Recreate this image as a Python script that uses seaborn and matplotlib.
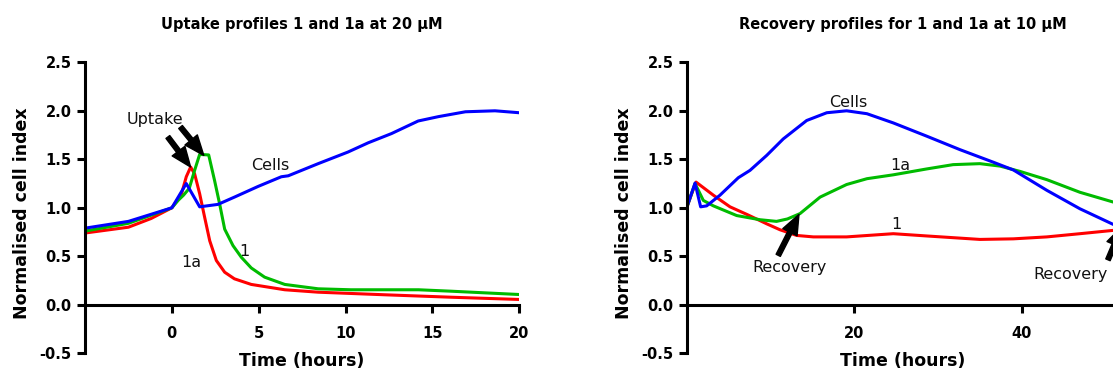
import matplotlib
matplotlib.use("Agg")
import matplotlib.pyplot as plt
import seaborn as sns
import pandas as pd

# ---------------- data ----------------
# Left panel: uptake profiles at 20 uM
up_t_cells = [-5, -2.5, 0, 0.83, 1.6, 2.65, 3.6, 4.96, 6.3, 6.7, 8.42, 10.14, 11.3, 12.64, 14.18, 15.35, 16.9, 18.6, 20]
up_cells   = [0.79, 0.86, 1.0, 1.25, 1.01, 1.035, 1.11, 1.22, 1.32, 1.33, 1.455, 1.575, 1.67, 1.765, 1.895, 1.94, 1.99, 2.0, 1.98]

up_t_1 = [-5, -2.5, 0, 0.38, 0.67, 1.0, 1.31, 1.6, 2.12, 2.46, 2.75, 3.04, 3.52, 4.0, 4.57, 5.34, 6.5, 8.42, 10.3, 14.2, 16.1, 20]
up_1   = [0.76, 0.84, 1.0, 1.08, 1.13, 1.2, 1.386, 1.55, 1.545, 1.28, 1.04, 0.78, 0.61, 0.49, 0.38, 0.285, 0.21, 0.165, 0.155, 0.155, 0.14, 0.106]

up_t_1a = [-5, -2.5, -1.19, 0, 0.55, 0.83, 1.08, 1.31, 1.6, 1.89, 2.18, 2.56, 3.04, 3.6, 4.57, 6.5, 8.42, 12.3, 16.1, 20]
up_1a   = [0.74, 0.80, 0.89, 1.0, 1.14, 1.32, 1.42, 1.35, 1.145, 0.90, 0.66, 0.457, 0.336, 0.268, 0.21, 0.155, 0.13, 0.103, 0.078, 0.055]

# Right panel: recovery profiles at 10 uM
rc_t_cells = [0, 0.96, 1.63, 2.35, 3.94, 6.13, 7.53, 9.52, 11.5, 14.3, 16.7, 19.07, 21.5, 24.65, 28.6, 32.6, 36.6, 39.0, 43.0, 46.95, 50.9, 52]
rc_cells   = [1.01, 1.255, 1.01, 1.02, 1.13, 1.31, 1.386, 1.54, 1.71, 1.90, 1.98, 2.0, 1.97, 1.875, 1.74, 1.60, 1.47, 1.39, 1.18, 0.99, 0.83, 0.79]

rc_t_1a = [0, 0.96, 1.95, 3.15, 5.94, 8.72, 10.7, 12.0, 13.5, 15.9, 19.07, 21.5, 24.65, 28.6, 31.8, 35.0, 37.4, 39.8, 43.0, 46.95, 50.9, 52]
rc_1a   = [1.01, 1.25, 1.076, 1.02, 0.92, 0.877, 0.86, 0.885, 0.94, 1.11, 1.24, 1.30, 1.34, 1.40, 1.445, 1.455, 1.43, 1.375, 1.29, 1.16, 1.06, 1.04]

rc_t_1 = [0, 0.56, 1.08, 3.15, 5.14, 7.2, 9.52, 11.1, 13.1, 15.1, 19.07, 24.65, 28.6, 35.0, 39.0, 43.0, 46.95, 50.9, 52]
rc_1   = [1.01, 1.145, 1.265, 1.13, 1.01, 0.93, 0.835, 0.774, 0.715, 0.70, 0.70, 0.733, 0.71, 0.674, 0.68, 0.70, 0.733, 0.767, 0.775]

y_ticks = [-0.5, 0.0, 0.5, 1.0, 1.5, 2.0, 2.5]
y_tick_labels = ["-0.5", "0.0", "0.5", "1.0", "1.5", "2.0", "2.5"]
up_x_ticks = [0, 5, 10, 15, 20]
rc_x_ticks = [20, 40]

titles = ["Uptake profiles 1 and 1a at 20 \u00b5M", "Recovery profiles for 1 and 1a at 10 \u00b5M"]
x_label = "Time (hours)"
y_label = "Normalised cell index"

BLUE = "#0000FF"
GREEN = "#00BB00"
RED = "#FF0000"

# ---------------- style ----------------
sns.set_style("ticks")
plt.rcParams["font.family"] = ["DejaVu Sans"]
plt.rcParams["axes.unicode_minus"] = False
plt.rcParams["text.color"] = "black"
plt.rcParams["axes.labelcolor"] = "black"

W, H = 1113, 372
fig = plt.figure(figsize=(W / 100, H / 100), dpi=100)
bottom = 1 - 353.3 / H
height = (353.3 - 62.3) / H
ax1 = fig.add_axes([85 / W, bottom, (519.3 - 85) / W, height])
ax2 = fig.add_axes([687 / W, bottom, (1118 - 687) / W, height])

LW = 2.2

def draw(ax, series):
    for t, v, c in series:
        df = pd.DataFrame({"t": t, "v": v})
        sns.lineplot(data=df, x="t", y="v", ax=ax, color=c, lw=LW,
                     estimator=None, sort=True, legend=False)

draw(ax1, [(up_t_1a, up_1a, RED), (up_t_1, up_1, GREEN), (up_t_cells, up_cells, BLUE)])
draw(ax2, [(rc_t_1, rc_1, RED), (rc_t_1a, rc_1a, GREEN), (rc_t_cells, rc_cells, BLUE)])

def style(ax, xlim, xticks, title):
    ax.set_xlim(*xlim)
    ax.set_ylim(-0.5, 2.5)
    ax.spines["top"].set_visible(False)
    ax.spines["right"].set_visible(False)
    ax.spines["bottom"].set_position(("data", 0))
    for s in ("left", "bottom"):
        ax.spines[s].set_linewidth(2.2)
        ax.spines[s].set_color("black")
    ax.set_xticks(xticks)
    ax.set_xticklabels([str(x) for x in xticks])
    ax.set_yticks(y_ticks)
    ax.set_yticklabels(y_tick_labels)
    ax.tick_params(axis="both", direction="out", length=5.8, width=2.2, color="black",
                   labelsize=10.5, labelcolor="black")
    ax.tick_params(axis="x", pad=9.5)
    ax.tick_params(axis="y", pad=4)
    for lab in ax.get_xticklabels() + ax.get_yticklabels():
        lab.set_fontweight("bold")
    ax.set_xlabel(x_label, fontsize=12.5, fontweight="bold", color="black")
    ax.set_ylabel(y_label, fontsize=12.5, fontweight="bold", color="black")
    ax.xaxis.label.set_va("center")
    ax.yaxis.label.set_va("center")
    ax.xaxis.set_label_coords(0.5, -0.027)
    ax.yaxis.set_label_coords(-63.3 / (ax.get_position().width * W), 0.48)
    ax.text(0.5, 1.1144, title, transform=ax.transAxes, ha="center", va="baseline",
            fontsize=10.5, fontweight="bold", color="black")
    ax.set_facecolor("white")

style(ax1, (-5, 20), up_x_ticks, titles[0])
style(ax2, (0, 51.5), rc_x_ticks, titles[1])

ANN = 11.5
TXT = "#111111"
# Left panel labels
ax1.text(-0.99, 1.868, "Uptake", ha="center", va="baseline", fontsize=ANN, color=TXT)
ax1.text(5.68, 1.386, "Cells", ha="center", va="baseline", fontsize=ANN, color=TXT)
ax1.text(1.1, 0.388, "1a", ha="center", va="baseline", fontsize=ANN, color=TXT)
ax1.text(4.2, 0.498, "1", ha="center", va="baseline", fontsize=ANN, color=TXT)

arrow_kw = dict(facecolor="black", edgecolor="black", width=3.4, headwidth=11.5,
                headlength=14.4, shrink=0)
ax1.annotate("", xy=(1.08, 1.42), xytext=(-0.23, 1.73), arrowprops=arrow_kw)
ax1.annotate("", xy=(1.84, 1.54), xytext=(0.50, 1.833), arrowprops=arrow_kw)

# Right panel labels
ax2.text(19.3, 2.043, "Cells", ha="center", va="baseline", fontsize=ANN, color=TXT)
ax2.text(25.5, 1.393, "1a", ha="center", va="baseline", fontsize=ANN, color=TXT)
ax2.text(25.0, 0.784, "1", ha="center", va="baseline", fontsize=ANN, color=TXT)
ax2.text(12.2, 0.333, "Recovery", ha="center", va="baseline", fontsize=ANN, color=TXT)
ax2.text(41.4, 0.261, "Recovery", ha="left", va="baseline", fontsize=ANN, color=TXT,
         clip_on=False)

ax2.annotate("", xy=(13.38, 0.932), xytext=(10.9, 0.51), arrowprops=arrow_kw)
ax2.annotate("", xy=(52.0, 0.81), xytext=(50.3, 0.464), arrowprops=arrow_kw,
             annotation_clip=False)

fig.savefig("out.png", dpi=100, facecolor="white")
